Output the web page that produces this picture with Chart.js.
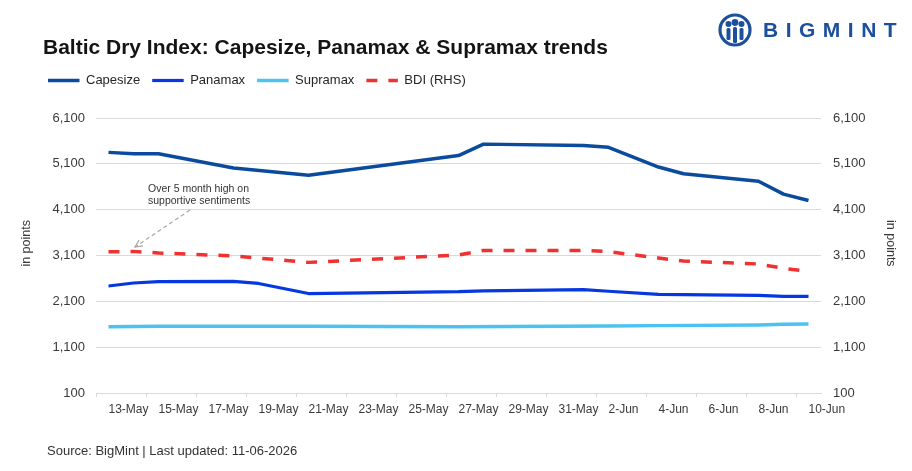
<!DOCTYPE html>
<html>
<head>
<meta charset="utf-8">
<script src="https://cdn.jsdelivr.net/npm/chart.js@4.4.1/dist/chart.umd.min.js"></script>
<style>
  html, body { margin: 0; padding: 0; background: #fff; }
  #wrap { position: relative; width: 912px; height: 471px; overflow: hidden; font-family: "Liberation Sans", Arial, sans-serif; }
  #chart { position: absolute; left: 0; top: 0; }
  .title { position: absolute; left: 43px; top: 36px; font-size: 21px; line-height: 21px; font-weight: bold; color: #141414; white-space: nowrap; }
  .source { position: absolute; left: 47px; top: 444px; font-size: 13px; line-height: 14px; color: #333; white-space: nowrap; }
  .logo { position: absolute; left: 718px; top: 13px; display: flex; align-items: center; }
  .logo span { margin-left: 11px; font-size: 21px; font-weight: bold; letter-spacing: 7.5px; color: #1c4f9c; }
</style>
</head>
<body>
<div id="wrap">
  <canvas id="chart" width="912" height="471"></canvas>
  <div class="title">Baltic Dry Index: Capesize, Panamax &amp; Supramax trends</div>
  <div class="logo">
    <svg width="34" height="34" viewBox="0 0 34 34">
      <circle cx="17" cy="17" r="15" fill="none" stroke="#1c4f9c" stroke-width="3.2"/>
      <circle cx="10.5" cy="11" r="3" fill="#1c4f9c"/>
      <circle cx="17" cy="9.5" r="3.4" fill="#1c4f9c"/>
      <circle cx="23.5" cy="11" r="3" fill="#1c4f9c"/>
      <rect x="8.5" y="15" width="4" height="12" rx="1.5" fill="#1c4f9c"/>
      <rect x="15" y="14" width="4" height="16" rx="1.5" fill="#1c4f9c"/>
      <rect x="21.5" y="15" width="4" height="12" rx="1.5" fill="#1c4f9c"/>
    </svg>
    <span>BIGMINT</span>
  </div>
  <div class="source">Source: BigMint | Last updated: 11-06-2026</div>
</div>
<script>
// daily calendar slots, 13-May to 10-Jun; null = no reading that day
const dates = ['13-May', '14-May', '15-May', '16-May', '17-May', '18-May', '19-May', '20-May',
  '21-May', '22-May', '23-May', '24-May', '25-May', '26-May', '27-May', '28-May', '29-May',
  '30-May', '31-May', '1-Jun', '2-Jun', '3-Jun', '4-Jun', '5-Jun', '6-Jun', '7-Jun', '8-Jun',
  '9-Jun', '10-Jun'];

const capesize = [5350, 5320, 5320, null, null, 5010, null, null, 4850, null, null, null, null, null,
  5280, 5530, null, null, null, 5500, 5460, null, 5030, 4885, null, null, 4720, 4440, 4300];
const panamax = [2435, 2500, 2530, null, null, 2535, 2490, null, 2270, null, null, null, null, null,
  2310, 2330, null, null, null, 2355, 2320, null, 2250, 2245, null, null, 2230, 2210, 2210];
const supramax = [1545, null, 1555, null, null, null, null, null, 1555, null, null, null, null, null,
  1548, null, null, null, null, null, 1560, null, 1570, null, null, null, 1585, 1600, 1605];
const bdi = [3180, 3190, 3155, null, null, 3090, null, null, 2950, null, null, null, null, null,
  3110, 3210, null, null, null, 3210, 3185, null, 3045, 2980, null, null, 2915, 2820, 2755];

const yTicks = [100, 1100, 2100, 3100, 4100, 5100, 6100];

Chart.defaults.font.family = '"Liberation Sans", Arial, sans-serif';
Chart.defaults.color = '#3a3a3a';

const gridGrey = '#d9d9d9';

// legend sits lower and further right than Chart.js puts it
const legendSpot = {
  id: 'legendSpot',
  beforeInit(chart) {
    const legend = chart.legend;
    if (!legend || legend._spotted) return;
    const fit = legend.fit;
    legend.fit = function () {
      fit.call(this);
      if (this.height) this.height += 21;
    };
    legend._spotted = true;
  },
  afterLayout(chart) {
    chart.legend.left += 18;
  }
};

// "Over 5 month high" note with dashed arrow
const note = {
  id: 'note',
  afterDatasetsDraw(chart) {
    const ctx = chart.ctx;
    ctx.save();
    ctx.fillStyle = '#333';
    ctx.font = '10.5px "Liberation Sans", Arial, sans-serif';
    ctx.textBaseline = 'middle';
    ctx.fillText('Over 5 month high on', 148, 189);
    ctx.fillText('supportive sentiments', 148, 201);

    const x0 = 190, y0 = 210, x1 = 135, y1 = 247;
    ctx.strokeStyle = '#a6a6a6';
    ctx.lineWidth = 1.2;
    ctx.setLineDash([4, 3]);
    ctx.beginPath();
    ctx.moveTo(x0, y0);
    ctx.lineTo(x1, y1);
    ctx.stroke();
    ctx.setLineDash([]);
    const a = Math.atan2(y1 - y0, x1 - x0);
    ctx.beginPath();
    ctx.moveTo(x1 - 8 * Math.cos(a - 0.45), y1 - 8 * Math.sin(a - 0.45));
    ctx.lineTo(x1, y1);
    ctx.lineTo(x1 - 8 * Math.cos(a + 0.45), y1 - 8 * Math.sin(a + 0.45));
    ctx.stroke();
    ctx.restore();
  }
};

function line(label, data, color, width, axis, dash) {
  return {
    label: label,
    data: data,
    yAxisID: axis,
    borderColor: color,
    backgroundColor: color,
    borderWidth: width,
    borderDash: dash || [],
    borderJoinStyle: 'round',
    pointRadius: 0,
    pointHoverRadius: 0,
    tension: 0,
    spanGaps: true,
    fill: false
  };
}

new Chart(document.getElementById('chart').getContext('2d'), {
  type: 'line',
  data: {
    labels: dates,
    datasets: [
      line('Capesize', capesize, '#0a4b9e', 3.5, 'y'),
      line('Panamax', panamax, '#0538e0', 3.2, 'y'),
      line('Supramax', supramax, '#4cc2f1', 3.5, 'y'),
      line('BDI (RHS)', bdi, '#ee3232', 3.5, 'y1', [11, 11])
    ]
  },
  options: {
    responsive: false,
    animation: false,
    layout: { padding: { top: 62, left: 18, right: 0, bottom: 0 } },
    plugins: {
      legend: {
        position: 'top',
        align: 'start',
        labels: {
          usePointStyle: true,
          pointStyle: 'line',
          pointStyleWidth: 31.5,
          padding: 12,
          color: '#262626',
          font: { size: 13 },
          // point-style items lose the dataset dash, so copy the line style back in
          generateLabels: chart => Chart.defaults.plugins.legend.labels.generateLabels(chart).map(item => {
            const ds = chart.data.datasets[item.datasetIndex];
            item.lineDash = ds.borderDash;
            item.lineWidth = ds.borderWidth;
            item.strokeStyle = ds.borderColor;
            return item;
          })
        }
      },
      tooltip: { enabled: false }
    },
    scales: {
      x: {
        type: 'category',
        offset: true,
        afterFit: s => { s.height = 78; },
        grid: {
          offset: true,
          drawOnChartArea: false,
          drawTicks: true,
          tickLength: 4,
          color: c => (c.index % 2 === 0 ? gridGrey : 'rgba(0,0,0,0)')
        },
        border: { color: gridGrey, width: 1 },
        ticks: {
          autoSkip: false,
          maxRotation: 0,
          minRotation: 0,
          align: 'start',
          padding: 5,
          font: { size: 12 },
          callback: (v, i) => (i % 2 === 0 ? dates[i] : '')
        }
      },
      y: {
        position: 'left',
        min: 100,
        max: 6100,
        afterFit: s => { s.width = 78; },
        afterBuildTicks: s => { s.ticks = yTicks.map(v => ({ value: v })); },
        grid: { color: gridGrey, drawTicks: false },
        border: { display: false },
        ticks: { padding: 11, font: { size: 13 }, callback: v => v.toLocaleString('en-US') },
        // leading spaces nudge the rotated title up to where the original sits
        title: { display: true, text: '       in points', font: { size: 12.5 }, padding: { top: 1.5, bottom: 0 } }
      },
      y1: {
        position: 'right',
        min: 100,
        max: 6100,
        afterFit: s => { s.width = 91; },
        afterBuildTicks: s => { s.ticks = yTicks.map(v => ({ value: v })); },
        grid: { drawOnChartArea: false, drawTicks: false },
        border: { display: false },
        ticks: { padding: 12, font: { size: 13 }, callback: v => v.toLocaleString('en-US') },
        title: { display: true, text: 'in points       ', font: { size: 12.5 }, padding: { top: 14.5, bottom: 0 } }
      }
    }
  },
  plugins: [legendSpot, note]
});
</script>
</body>
</html>
